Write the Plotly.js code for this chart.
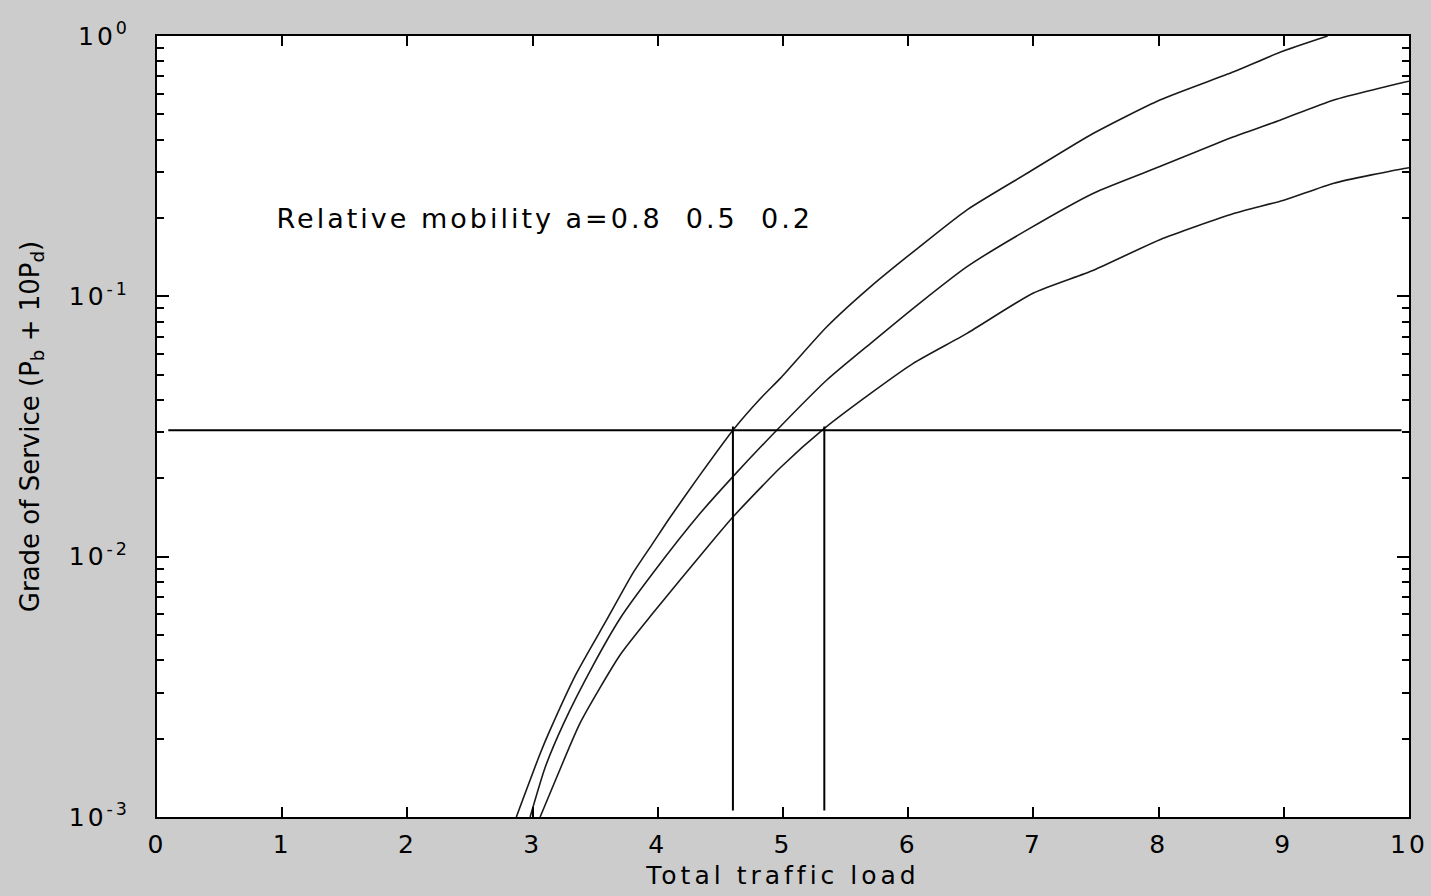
<!DOCTYPE html>
<html>
<head>
<meta charset="utf-8">
<script src="https://cdn.plot.ly/plotly-3.0.1.min.js"></script>
<style>
html,body{margin:0;padding:0;background:#cccccc;}
#chart{width:1431px;height:896px;}
#chart .annotation-text{letter-spacing:3px;}
#chart .xtitle{letter-spacing:4px;}
#chart .xtick text, #chart .ytick text{letter-spacing:3px;}
</style>
</head>
<body>
<div id="chart"></div>
<script>
// Curve a = 0.8
const loadA08 = [2.87, 3.06, 3.14, 3.35, 3.59, 3.80, 3.96, 4.10, 4.34, 4.60, 4.82, 4.98, 5.35, 5.70, 6.09, 6.47, 6.95, 7.48, 8.01, 8.60, 8.98, 9.35];
const gosA08  = [0.001, 0.00175, 0.00216, 0.00356, 0.0057, 0.00863, 0.01125, 0.0142, 0.0207, 0.0306, 0.0405, 0.0485, 0.0764, 0.109, 0.155, 0.215, 0.297, 0.423, 0.568, 0.729, 0.870, 1.0];
// Curve a = 0.5
const loadA05 = [2.98, 3.10, 3.25, 3.48, 3.70, 3.96, 4.34, 4.60, 4.95, 5.35, 5.70, 6.09, 6.47, 6.95, 7.48, 8.01, 8.60, 8.97, 9.40, 9.98, 10.0];
const gosA05  = [0.001, 0.00155, 0.0023, 0.0038, 0.0058, 0.00863, 0.0147, 0.0203, 0.0306, 0.0477, 0.066, 0.094, 0.130, 0.180, 0.249, 0.315, 0.410, 0.475, 0.568, 0.667, 0.67];
// Curve a = 0.2
const loadA02 = [3.06, 3.20, 3.38, 3.70, 3.96, 4.39, 4.60, 4.98, 5.33, 5.70, 6.04, 6.47, 7.00, 7.48, 8.01, 8.60, 9.00, 9.40, 9.96, 10.0];
const gosA02  = [0.001, 0.00145, 0.0023, 0.0042, 0.00606, 0.0108, 0.0142, 0.022, 0.0311, 0.0424, 0.0553, 0.0721, 0.103, 0.126, 0.165, 0.208, 0.234, 0.272, 0.310, 0.312];
// Reference lines
const gosTarget = 0.0306;
const hLineX = [0.09, 9.94];
const vLineX1 = 4.60;
const vLineX2 = 5.33;
const vLineY = [0.00106, 0.0316];
// Axis ticks
const xTicks = [0,1,2,3,4,5,6,7,8,9,10];
const yTickVals = [0.001, 0.01, 0.1, 1];
const yTickText = ['10<sup>-3</sup>', '10<sup>-2</sup>', '10<sup>-1</sup>', '10<sup>0</sup>'];
const noteText = 'Relative mobility a=0.8  0.5  0.2';

const lineStyle = {color: '#1a1a1a', width: 1.6, shape: 'spline', smoothing: 0.6};
const refStyle = {color: '#000000', width: 2};

const traces = [
  {x: loadA08, y: gosA08, mode: 'lines', line: lineStyle, name: 'a=0.8'},
  {x: loadA05, y: gosA05, mode: 'lines', line: lineStyle, name: 'a=0.5'},
  {x: loadA02, y: gosA02, mode: 'lines', line: lineStyle, name: 'a=0.2'},
  {x: hLineX, y: [gosTarget, gosTarget], mode: 'lines', line: refStyle},
  {x: [vLineX1, vLineX1], y: vLineY, mode: 'lines', line: refStyle},
  {x: [vLineX2, vLineX2], y: vLineY, mode: 'lines', line: refStyle}
];

const fontFam = 'DejaVu Sans, Liberation Sans, Arial, sans-serif';

const layout = {
  width: 1431, height: 896,
  paper_bgcolor: '#cccccc', plot_bgcolor: '#ffffff',
  showlegend: false,
  margin: {l: 157, r: 22, t: 36, b: 79},
  font: {family: fontFam, color: '#000000', size: 25},
  xaxis: {
    range: [0, 10], tickvals: xTicks, ticktext: xTicks.map(String),
    showgrid: false, zeroline: false,
    showline: true, linecolor: '#000000', linewidth: 2, mirror: 'ticks',
    ticks: 'inside', ticklen: 10, tickwidth: 2, tickcolor: '#000000',
    ticklabelstandoff: 4,
    tickfont: {family: fontFam, size: 25, color: '#000'},
    title: {text: 'Total traffic load', font: {family: fontFam, size: 25, color: '#000'}, standoff: 8},
    automargin: false
  },
  yaxis: {
    type: 'log', range: [-3, 0], tickvals: yTickVals, ticktext: yTickText,
    showgrid: false, zeroline: false,
    showline: true, linecolor: '#000000', linewidth: 2, mirror: 'ticks',
    ticks: 'inside', ticklen: 12, tickwidth: 2, tickcolor: '#000000',
    minor: {ticks: 'inside', ticklen: 7, tickwidth: 2, tickcolor: '#000000', dtick: 'D1', showgrid: false},
    ticklabelstandoff: 20,
    tickfont: {family: fontFam, size: 25, color: '#000'},
    title: {text: 'Grade of Service (P<sub>b</sub> + 10P<sub>d</sub>)', font: {family: fontFam, size: 26, color: '#000'}, standoff: 34},
    automargin: false
  },
  annotations: [{
    x: 3.095, y: -0.7, xref: 'x', yref: 'y', text: noteText, showarrow: false,
    xanchor: 'center', yanchor: 'middle', font: {family: fontFam, size: 27, color: '#000'}
  }]
};

Plotly.newPlot('chart', traces, layout, {displayModeBar: false, staticPlot: true});
</script>
</body>
</html>
